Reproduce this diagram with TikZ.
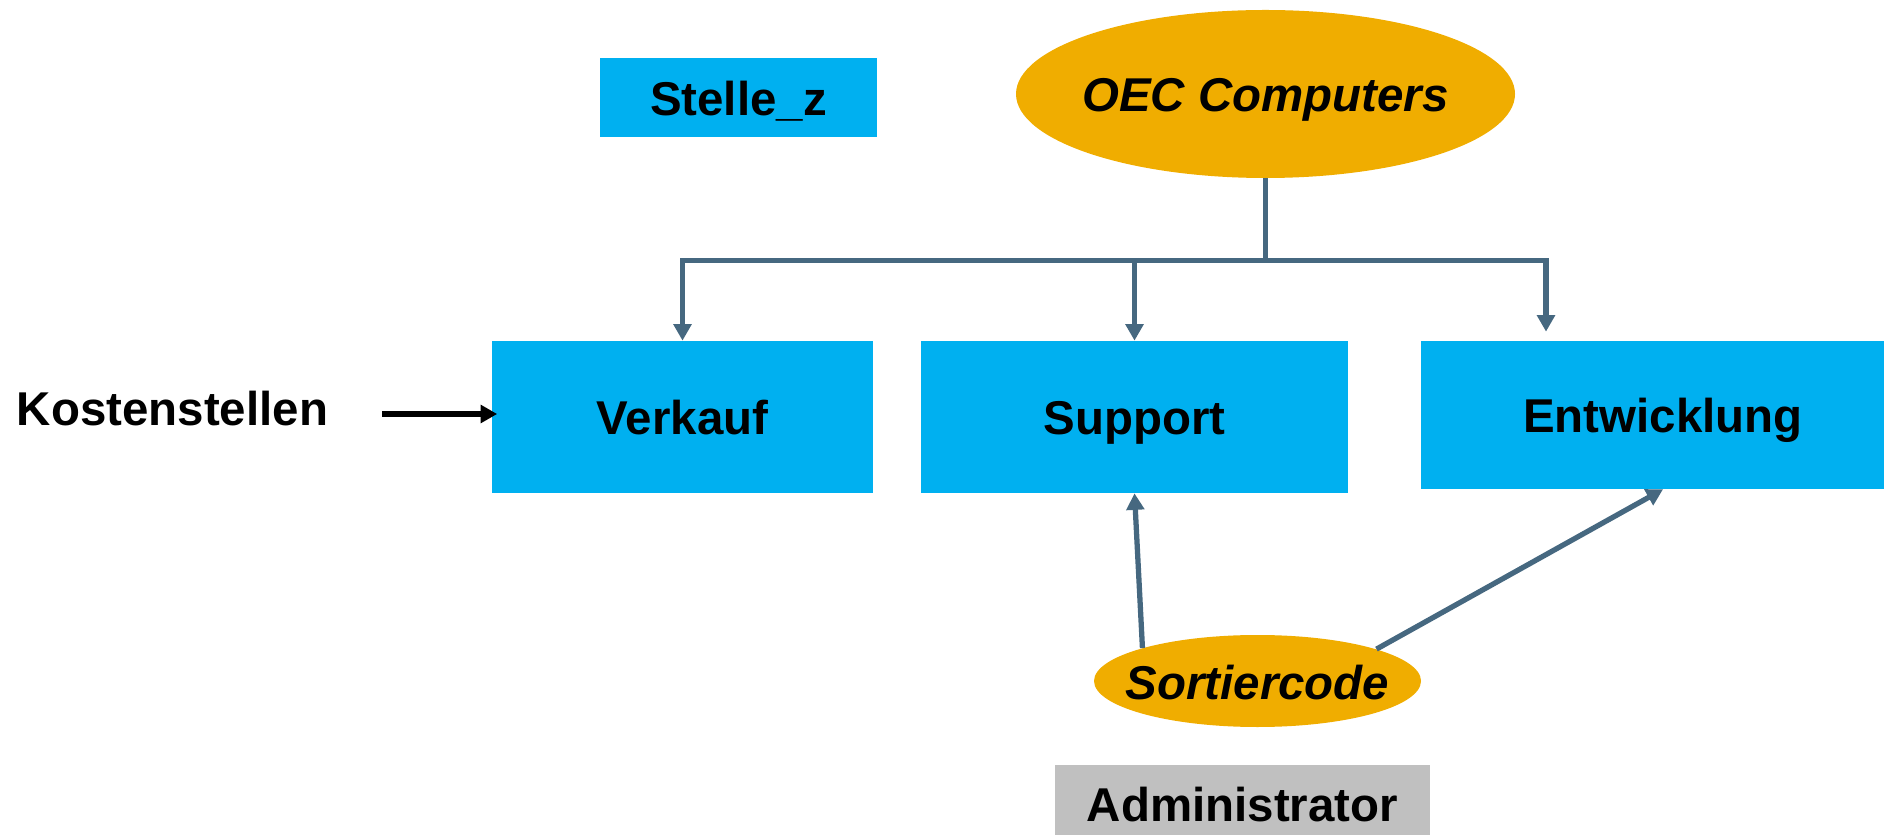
\documentclass[tikz,border=0pt]{standalone}
\usepackage{fontspec}
\setmainfont{Liberation Sans}
\definecolor{BoxBlue}{RGB}{0,176,240}
\definecolor{OvalGold}{RGB}{240,173,0}
\definecolor{LineSlate}{RGB}{70,104,128}
\definecolor{AdminGrey}{RGB}{192,192,192}
\usetikzlibrary{arrows.meta, positioning, shapes.geometric}

\begin{document}
\begin{tikzpicture}[
        font=\fontsize{27}{32}\selectfont\bfseries,
        block/.style={rectangle, fill=BoxBlue, inner sep=0pt, text height=0.72cm, text depth=0pt},
        oval/.style={ellipse, fill=OvalGold, inner xsep=-0.4cm, inner ysep=0pt, text height=0.72cm, text depth=0pt, font=\fontsize{27}{32}\selectfont\bfseries\itshape},
        line/.style={draw, color=LineSlate, line width=3pt, -{Triangle[length=0.33cm, width=0.35cm]}}
    ]
        \useasboundingbox (0,0) rectangle (37.68,16.68);
        \clip (0,0) rectangle (37.68,16.68);

        \node [block, minimum width=5.54cm, minimum height=1.58cm] (stelle) at (14.77,14.73) {Stelle\_z};
        \node [oval, minimum width=9.98cm, minimum height=3.36cm] (oec) at (25.31,14.80) {OEC Computers};
        \node [block, minimum width=7.62cm, minimum height=3.04cm] (verkauf) at (13.65,8.34) {Verkauf};
        \node [block, minimum width=8.54cm, minimum height=3.04cm] (support) at (22.69,8.34) {Support};
        \node [block, minimum width=9.68cm, minimum height=2.96cm] (entw) at (33.26,8.38) {Entwicklung};
        \node [inner sep=0pt, text height=0.72cm, text depth=0pt] (kosten) at (3.45,8.53) {Kostenstellen};
        \node [oval, minimum width=6.54cm, minimum height=1.84cm] (sort) at (25.15,3.06) {Sortiercode};
        \node [block, fill=AdminGrey, minimum width=7.5cm, minimum height=1.55cm] (admin) at (24.85,0.606) {Administrator};

        \coordinate [below=1.64cm of oec.south] (fork);
        \coordinate (kstart) at (7.64,8.40);

        \path [line] (oec.south) -- (fork) -| (verkauf.north);
        \path [line] (fork) -| (support.north);
        \path [line] (fork) -| ([xshift=-2.34cm, yshift=0.18cm]entw.north);
        \path [line] (sort.164) -- (support.south);
        \path [line] (sort.15.4) -- (entw.south);
        \path [line, color=black, shorten >=-0.11cm] (kstart) -- (kstart -| verkauf.west);
    \end{tikzpicture}
\end{document}
